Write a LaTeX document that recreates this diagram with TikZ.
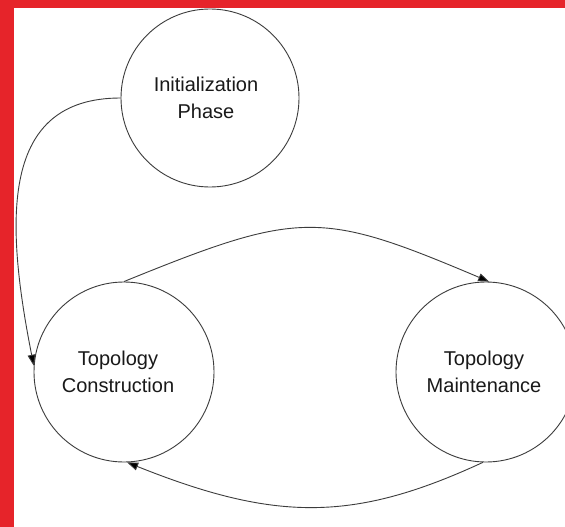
\documentclass[tikz,border=0pt]{standalone}
\usepackage{fontspec}
\setmainfont{Liberation Sans}
\usetikzlibrary{arrows.meta}
\definecolor{barred}{RGB}{230,36,42}
\definecolor{linegray}{RGB}{60,60,60}
\begin{document}
\begin{tikzpicture}[x=1pt,y=-1pt,
  phase/.style={circle,draw=linegray,line width=0.9pt,minimum size=180pt,inner sep=0pt},
  lbl/.style={align=center,font=\fontsize{20}{27}\selectfont,text=black!90,inner sep=0pt},
  conn/.style={draw=linegray,line width=0.9pt,-{Triangle[length=11pt,width=8pt,fill=black]}}]
\useasboundingbox (0,0) rectangle (565,527);
\fill[white] (0,0) rectangle (565,527);
\begin{scope}
\clip (0,0) rectangle (565,527);
\node[phase,minimum size=178pt] (init) at (210,98) {};
\node[phase] (cons) at (124,372) {};
\node[phase] (maint) at (486,372) {};
\node[lbl] (initL) at ([xshift=-4pt]init.center) {Initialization\\Phase};
\node[lbl] (consL) at ([xshift=-6pt]cons.center) {Topology\\Construction};
\node[lbl] (maintL) at ([xshift=-2pt]maint.center) {Topology\\Maintenance};
\draw[conn] (init.180) .. controls (0,98) and (5,220) .. (cons.176);
\draw[conn] (cons.90) .. controls (300,210) and (320,210) .. (maint.88);
\draw[conn] (maint.268) .. controls (354,522) and (276,522) .. (cons.-88);
\end{scope}
\fill[barred] (0,0) rectangle (565,8);
\fill[barred] (0,0) rectangle (14,527);
\end{tikzpicture}
\end{document}
